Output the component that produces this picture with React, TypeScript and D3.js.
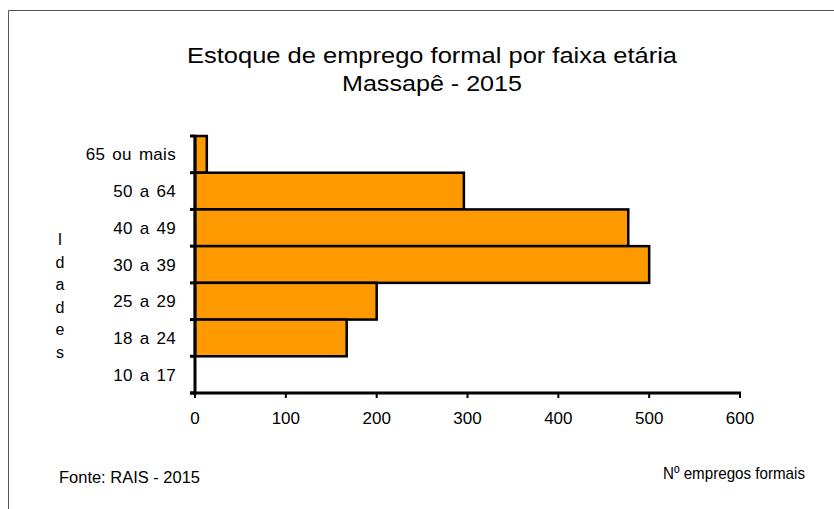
import React from "react";
import * as d3 from "d3";

const ageGroups = ["65 ou mais", "50 a 64", "40 a 49", "30 a 39", "25 a 29", "18 a 24", "10 a 17"];
const employees = [13, 296, 477, 500, 200, 167, 0];
const xTicks = [0, 100, 200, 300, 400, 500, 600];
const titleLines = ["Estoque de emprego formal por faixa etária", "Massapê - 2015"];
const yTitle = "Idades";

const W = 834;
const H = 509;
const margin = { top: 136, right: 94, bottom: 116, left: 195 };

const App = () => {
  const x = d3.scaleLinear().domain([0, 600]).range([margin.left, W - margin.right]);
  const y = d3
    .scaleBand()
    .domain(ageGroups)
    .range([margin.top, H - margin.bottom])
    .padding(0);

  const font = "'Liberation Sans', Arial, sans-serif";
  const bottom = H - margin.bottom;
  const titleWidths = [490, 180];

  return (
    <svg
      width={W}
      height={H}
      style={{ position: "absolute", left: 0, top: 0, background: "#fff" }}
      fontFamily={font}
    >
      {/* outer frame */}
      <path d={`M8.5,${H} V10.5 H${W}`} fill="none" stroke="#555" strokeWidth={1} />

      {titleLines.map((t, i) => (
        <text
          key={t}
          x={432}
          y={63 + i * 28}
          textAnchor="middle"
          fontSize={21.5}
          textLength={titleWidths[i]}
          lengthAdjust="spacingAndGlyphs"
          fill="#000"
        >
          {t}
        </text>
      ))}

      {/* bars */}
      {ageGroups.map((g, i) =>
        employees[i] > 0 ? (
          <rect
            key={g}
            x={x(0)}
            y={y(g)!}
            width={x(employees[i]) - x(0)}
            height={y.bandwidth()}
            fill="#ff9900"
            stroke="#000"
            strokeWidth={2.5}
          />
        ) : null
      )}

      {/* y axis */}
      <line x1={x(0)} x2={x(0)} y1={margin.top - 1} y2={bottom + 1.5} stroke="#000" strokeWidth={3} />
      {d3.range(ageGroups.length + 1).map((i) => {
        const yy = margin.top + i * y.step();
        return <line key={i} x1={x(0) - 5} x2={x(0)} y1={yy} y2={yy} stroke="#000" strokeWidth={3} />;
      })}
      {ageGroups.map((g) => (
        <text
          key={g}
          x={176}
          y={y(g)! + y.bandwidth() / 2 + 6}
          textAnchor="end"
          fontSize={17}
          letterSpacing={0.3}
          wordSpacing={2}
          fill="#000"
        >
          {g}
        </text>
      ))}

      {/* x axis */}
      <line x1={x(0) - 5} x2={x(600) + 1} y1={bottom} y2={bottom} stroke="#000" strokeWidth={3} />
      {xTicks.map((t) => (
        <g key={t}>
          <line x1={x(t)} x2={x(t)} y1={bottom} y2={bottom + 5} stroke="#000" strokeWidth={2} />
          <text x={x(t)} y={424} textAnchor="middle" fontSize={17} fill="#000">
            {t}
          </text>
        </g>
      ))}

      {/* vertical axis title, stacked letters */}
      {yTitle.split("").map((c, i) => (
        <text key={i} x={60} y={245 + i * 22.5} textAnchor="middle" fontSize={16} fill="#000">
          {c}
        </text>
      ))}

      <text
        x={663}
        y={479}
        fontSize={17}
        textLength={142}
        lengthAdjust="spacingAndGlyphs"
        fill="#000"
      >
        Nº empregos formais
      </text>
      <text
        x={59}
        y={483}
        fontSize={16}
        textLength={141}
        lengthAdjust="spacingAndGlyphs"
        fill="#000"
      >
        Fonte: RAIS - 2015
      </text>
    </svg>
  );
};

export default App;
